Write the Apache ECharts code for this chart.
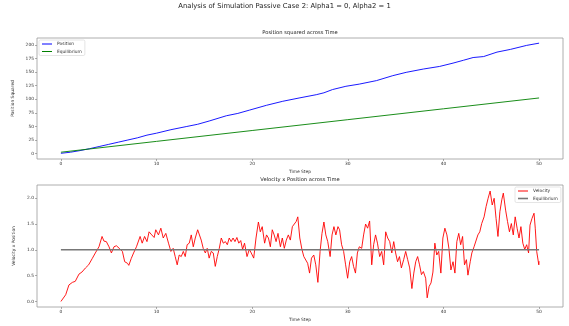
<!DOCTYPE html>
<html>
<head>
    <meta charset="utf-8">
    <title>Analysis of Simulation Passive Case 2</title>
    <script src="https://cdn.jsdelivr.net/npm/echarts@6.0.0/dist/echarts.min.js"></script>
    <style>
        html, body {margin: 0; padding: 0; background: #fff;}
        #chart {width: 569px; height: 326px;}
    </style>
</head>
<body>
<div id="chart"></div>
<script>
    //上图：位置平方
    const posTime = [0, 1, 2, 3, 4, 5, 6, 7, 8, 9, 10, 11.5, 13.1, 14.3, 15.5, 17.3, 18.5, 19.7, 21.5, 23.2, 24.9, 26.7, 27.5, 28.4, 29.8, 31.2, 33, 34.7, 36.1, 37.9, 39.6, 41, 42.1, 43.1, 44.2, 45.6, 47, 48.7, 50]
    const posValue = [0.5, 2.5, 5.5, 9, 13, 17, 21, 25, 29, 34, 37.6, 44, 49.7, 54, 60, 69.7, 74, 80, 89, 96.4, 102.4, 108.5, 112, 118, 124, 128, 134.5, 143.6, 149.7, 155.8, 160.6, 166.7, 172, 177, 178.8, 187, 192, 199.4, 203.5]
    const eqTime = [0, 10, 20, 30, 40, 50]
    const eqValue = [2.5, 22.5, 42.5, 62.5, 82.5, 102.5]

    //下图：速度 x 位置
    const velTime = [0, 0.5, 0.84, 1.2, 1.5, 1.89, 2.2, 2.57, 2.9, 3.27, 3.6, 3.98, 4.3, 4.5, 4.75, 5.03, 5.28, 5.55, 5.8, 6.1, 6.43, 6.67, 6.96, 7.1, 7.35, 7.6, 7.9, 8.28, 8.5, 8.75, 9.0,
        9.22, 9.5, 9.75, 9.92, 10.2, 10.45, 10.7, 10.97, 11.25, 11.5, 11.74, 11.95, 12.16, 12.37, 12.58, 12.8, 13.0, 13.2, 13.42, 13.63, 13.84, 14.05, 14.3, 14.46, 14.67, 14.88, 15.1, 15.3, 15.5, 15.72, 15.93, 16.14, 16.35, 16.56, 16.77, 16.98, 17.2, 17.4, 17.6, 17.8, 18.0, 18.2, 18.4, 18.6, 18.8, 19.0,
        19.2, 19.46, 19.7, 19.9, 20.16, 20.4, 20.65, 20.85, 21.05, 21.3, 21.5, 21.7, 21.9, 22.1, 22.3, 22.5, 22.7, 22.95, 23.15, 23.36, 23.57, 23.78, 23.99, 24.2, 24.4, 24.6, 24.77, 24.98, 25.2, 25.4, 25.6, 25.8, 26.0, 26.2, 26.44, 26.65, 26.87, 27.1, 27.3, 27.5, 27.7, 27.9, 28.15, 28.35, 28.55, 28.75, 28.97,
        29.14, 29.35, 29.56, 29.77, 29.98, 30.2, 30.4, 30.6, 30.8, 31.0, 31.2, 31.45, 31.65, 31.86, 32.07, 32.28, 32.5, 32.7, 32.9, 33.1, 33.33, 33.54, 33.75, 33.96, 34.17, 34.38, 34.6, 34.8, 35.0, 35.2, 35.4, 35.6, 35.84, 36.05, 36.26, 36.47, 36.7, 36.9, 37.1, 37.3, 37.5, 37.7, 37.9, 38.14, 38.3, 38.5, 38.7, 38.9,
        39.1, 39.3, 39.5, 39.73, 39.94, 40.15, 40.36, 40.57, 40.78, 41.0, 41.2, 41.4, 41.6, 41.8, 42.0, 42.2, 42.4, 42.56, 42.8, 42.97, 43.2, 43.4, 43.6, 43.8, 44.0, 44.25, 44.46, 44.67, 44.88, 45.1, 45.3, 45.5, 45.7, 45.9, 46.1, 46.26, 46.5, 46.7, 46.9, 47.1, 47.3, 47.5, 47.7, 47.9, 48.1, 48.3, 48.5, 48.7, 48.9, 49.05, 49.26, 49.47, 49.6, 49.75, 49.97, 50]
    const velValue = [0, 0.13, 0.32, 0.37, 0.39, 0.53, 0.57, 0.65, 0.71, 0.83, 0.94, 1.06, 1.26, 1.17, 1.16, 1.06, 0.94, 1.06, 1.08, 1.03, 0.97, 0.77, 0.74, 0.70, 0.83, 0.94, 1.06, 1.26, 1.13, 1.26, 1.16,
        1.35, 1.29, 1.24, 1.39, 1.29, 1.42, 1.23, 1.32, 1.13, 0.97, 1.03, 0.87, 0.71, 0.90, 0.87, 0.97, 0.87, 1.10, 1.13, 1.29, 1.06, 1.23, 1.39, 1.42, 1.19, 1.03, 0.94, 1.03, 0.84, 0.97, 0.94, 0.68, 0.87, 1.03, 1.23, 1.13, 1.16, 1.10, 1.23, 1.16, 1.23, 1.16, 1.24, 1.13, 1.18, 1.01,
        1.13, 0.87, 1.01, 0.94, 0.84, 1.23, 1.54, 1.35, 1.45, 1.13, 1.29, 1.23, 1.06, 1.39, 1.29, 1.16, 1.32, 1.06, 1.23, 1.03, 1.19, 1.29, 1.19, 1.45, 1.42, 1.55, 1.64, 1.23, 1.01, 0.87, 0.9, 0.74, 0.55, 0.84, 0.9, 0.71, 0.37, 0.97, 1.32, 1.54, 1.29, 1.16, 0.87, 1.29, 1.45, 1.29, 1.45,
        1.39, 1.10, 0.97, 0.71, 0.45, 0.77, 0.87, 0.68, 0.55, 0.94, 1.06, 1.03, 1.29, 1.50, 1.42, 1.56, 0.71, 1.10, 1.29, 1.13, 0.87, 0.97, 0.71, 1.35, 1.23, 1.16, 0.94, 1.16, 0.94, 0.77, 0.87, 0.65, 0.81, 0.97, 0.81, 0.65, 0.25, 0.55, 0.77, 0.87, 0.71, 0.52, 0.58, 0.45, 0.07, 0.29, 0.36, 0.57,
        1.13, 0.9, 0.97, 0.55, 1.23, 1.42, 1.29, 1.03, 0.61, 0.77, 0.55, 1.16, 1.32, 1.10, 1.26, 0.71, 0.81, 0.51, 0.77, 0.94, 1.06, 1.03, 1.29, 1.35, 1.51, 1.64, 1.84, 2.0, 2.14, 1.87, 2.0, 1.61, 1.26, 1.74, 1.97, 2.1, 1.77, 1.55, 1.35, 1.51, 1.29, 1.64, 1.42, 1.23, 1.45, 1.13, 1.01, 1.10, 0.94, 1.48, 1.61, 1.71, 1.42, 0.97, 0.71, 0.78]
    const velEqTime = [0, 50]
    const velEqValue = [1, 1]

    //刻度
    const xTicks = [0, 10, 20, 30, 40, 50]
    const posTicks = [0, 25, 50, 75, 100, 125, 150, 175, 200]
    const velTicks = [0, 0.5, 1.0, 1.5, 2.0]

    const zip = (xs, ys) => xs.map((x, i) => [x, ys[i]])

    const font = 'DejaVu Sans'
    const tickFont = 4.4
    const textColor = '#333'

    //通用的坐标轴配置
    const xAxisBase = (gridIndex) => ({
        type: 'value',
        gridIndex: gridIndex,
        min: -2.5,
        max: 52.5,
        name: 'Time Step',
        nameLocation: 'middle',
        nameGap: 11,
        nameTextStyle: {fontFamily: font, fontSize: tickFont, color: textColor},
        axisLine: {show: false, onZero: false},
        splitLine: {show: false},
        axisTick: {show: true, length: 2, customValues: xTicks, lineStyle: {color: '#777', width: 0.6}},
        axisLabel: {customValues: xTicks, margin: 3, fontFamily: font, fontSize: tickFont, color: textColor}
    })

    const yAxisBase = (gridIndex, min, max, name, ticks, formatter) => ({
        type: 'value',
        gridIndex: gridIndex,
        min: min,
        max: max,
        name: name,
        nameLocation: 'middle',
        nameGap: 16,
        nameTextStyle: {fontFamily: font, fontSize: tickFont, color: textColor},
        axisLine: {show: false, onZero: false},
        splitLine: {show: false},
        axisTick: {show: true, length: 2, customValues: ticks, lineStyle: {color: '#777', width: 0.6}},
        axisLabel: {customValues: ticks, margin: 3, fontFamily: font, fontSize: tickFont, color: textColor, formatter: formatter}
    })

    //图例
    const legendBase = (left, top, items) => ({
        orient: 'vertical',
        left: left,
        top: top,
        padding: [2, 3, 2, 3],
        itemWidth: 10,
        itemHeight: 4,
        itemGap: 3.5,
        backgroundColor: '#fff',
        borderColor: '#d4d4d4',
        borderWidth: 0.6,
        borderRadius: 1.5,
        textStyle: {fontFamily: font, fontSize: tickFont, color: textColor},
        formatter: name => name.replace(' (v)', ''),
        data: items.map(item => ({
            name: item.name,
            icon: 'path://M0,0 L10,0 L10,' + item.thick + ' L0,' + item.thick + ' Z',
            itemStyle: {color: item.color}
        }))
    })

    const chartInstance = echarts.init(document.getElementById('chart'), null, {renderer: 'canvas'})
    const option = {
        animation: false,
        backgroundColor: '#fff',
        title: [
            {
                text: 'Analysis of Simulation Passive Case 2: Alpha1 = 0, Alpha2 = 1',
                left: 'center',
                top: 3,
                padding: 0,
                textStyle: {fontFamily: font, fontSize: 6.8, fontWeight: 'normal', color: '#222'}
            },
            {
                text: 'Position squared across Time',
                left: 300,
                textAlign: 'center',
                top: 30,
                padding: 0,
                textStyle: {fontFamily: font, fontSize: 5.2, fontWeight: 'normal', color: '#222'}
            },
            {
                text: 'Velocity x Position across Time',
                left: 300,
                textAlign: 'center',
                top: 177,
                padding: 0,
                textStyle: {fontFamily: font, fontSize: 5.2, fontWeight: 'normal', color: '#222'}
            }
        ],
        grid: [
            {left: 37, top: 38, width: 526, height: 121, show: true, borderColor: '#999', borderWidth: 0.8, backgroundColor: 'transparent'},
            {left: 37, top: 185, width: 526, height: 122, show: true, borderColor: '#999', borderWidth: 0.8, backgroundColor: 'transparent'}
        ],
        legend: [
            legendBase(39, 40, [
                {name: 'Position', color: '#0000ff', thick: 1},
                {name: 'Equilibrium', color: '#008000', thick: 1}
            ]),
            legendBase(515, 187, [
                {name: 'Velocity', color: '#ff0000', thick: 1},
                {name: 'Equilibrium (v)', color: '#777777', thick: 1.6}
            ])
        ],
        xAxis: [xAxisBase(0), xAxisBase(1)],
        yAxis: [
            yAxisBase(0, -10, 213, 'Position Squared', posTicks, v => String(v)),
            yAxisBase(1, -0.1075, 2.2575, 'Velocity x Position', velTicks, v => v.toFixed(1))
        ],
        series: [
            {
                name: 'Position',
                type: 'line',
                xAxisIndex: 0,
                yAxisIndex: 0,
                symbol: 'none',
                color: '#0000ff',
                lineStyle: {color: '#0000ff', width: 0.9},
                data: zip(posTime, posValue)
            },
            {
                name: 'Equilibrium',
                type: 'line',
                xAxisIndex: 0,
                yAxisIndex: 0,
                symbol: 'none',
                color: '#008000',
                lineStyle: {color: '#008000', width: 0.9},
                data: zip(eqTime, eqValue)
            },
            {
                name: 'Velocity',
                type: 'line',
                xAxisIndex: 1,
                yAxisIndex: 1,
                symbol: 'none',
                color: '#ff0000',
                lineStyle: {color: '#ff0000', width: 0.9},
                data: zip(velTime, velValue)
            },
            {
                name: 'Equilibrium (v)',
                type: 'line',
                xAxisIndex: 1,
                yAxisIndex: 1,
                symbol: 'none',
                color: '#777777',
                lineStyle: {color: '#777777', width: 1.5},
                data: zip(velEqTime, velEqValue)
            }
        ]
    }
    chartInstance.setOption(option)
</script>
</body>
</html>
